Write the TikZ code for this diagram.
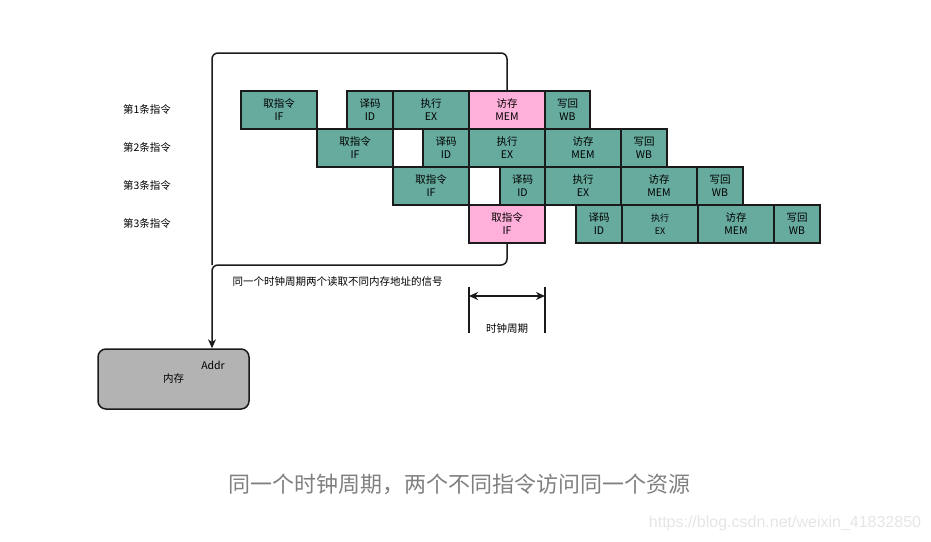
\documentclass[tikz,border=0pt]{standalone}
\usepackage{fontspec}
\setmainfont{Noto Sans CJK SC}
\newfontfamily\wmfont{Liberation Sans}
\usetikzlibrary{arrows.meta}
\definecolor{stagegreen}{HTML}{67AB9F}
\definecolor{stagepink}{HTML}{FFB0DA}
\definecolor{memgray}{HTML}{B3B3B3}
\definecolor{edgedark}{HTML}{1A1A1A}
\tikzset{
  stage/.style={draw=edgedark, line width=1.3pt, fill=stagegreen, minimum height=38,
    inner sep=0pt, align=center, font=\fontsize{10.5}{13}\selectfont},
  wide/.style={minimum width=76},
  narrow/.style={minimum width=46},
  clash/.style={fill=stagepink},
  rowlabel/.style={font=\fontsize{10.5}{12}\selectfont},
  wire/.style={draw=edgedark, line width=1.5pt},
}
\begin{document}
\begin{tikzpicture}[x=1pt, y=-1pt, >={Stealth[length=9pt, width=8pt]}]
    \useasboundingbox (0,0) rectangle (931,541);

    % --- row labels ---
    \node[rowlabel] (lab1) at (147,110) {第1条指令};
    \node[rowlabel] (lab2) at (147,148) {第2条指令};
    \node[rowlabel] (lab3) at (147,186) {第3条指令};
    \node[rowlabel] (lab4) at (147,224) {第3条指令};

    % --- instruction 1 ---
    \node[stage, wide] (r1if) at (279,110) {取指令\\IF};
    \node[stage, narrow] (r1id) at (370,110) {译码\\ID};
    \node[stage, wide] (r1ex) at (431,110) {执行\\EX};
    \node[stage, wide, clash] (r1mem) at (507,110) {访存\\MEM};
    \node[stage, minimum width=45] (r1wb) at (567.5,110) {写回\\WB};

    % --- instruction 2 ---
    \node[stage, wide] (r2if) at (355,148) {取指令\\IF};
    \node[stage, narrow] (r2id) at (446,148) {译码\\ID};
    \node[stage, wide] (r2ex) at (507,148) {执行\\EX};
    \node[stage, wide] (r2mem) at (583,148) {访存\\MEM};
    \node[stage, narrow] (r2wb) at (644,148) {写回\\WB};

    % --- instruction 3 ---
    \node[stage, wide] (r3if) at (431,186) {取指令\\IF};
    \node[stage, minimum width=45] (r3id) at (522.5,186) {译码\\ID};
    \node[stage, wide] (r3ex) at (583,186) {执行\\EX};
    \node[stage, wide] (r3mem) at (659,186) {访存\\MEM};
    \node[stage, narrow] (r3wb) at (720,186) {写回\\WB};

    % --- instruction 4 ---
    \node[stage, wide, clash] (r4if) at (507,224) {取指令\\IF};
    \node[stage, narrow] (r4id) at (599,224) {译码\\ID};
    \node[stage, wide, font=\fontsize{9}{13}\selectfont] (r4ex) at (660,224) {执行\\EX};
    \node[stage, wide] (r4mem) at (736,224) {访存\\MEM};
    \node[stage, narrow] (r4wb) at (797,224) {写回\\WB};

    % --- memory ---
    \node[draw=edgedark, line width=1.5pt, fill=memgray, rounded corners=8pt,
          minimum width=151, minimum height=60, font=\fontsize{10.5}{12}\selectfont]
          (mem) at (173.5,379) {内存};
    \node[font=\fontsize{10.5}{12}\selectfont] (addr) at (213,365) {Addr};

    % --- address bus ---
    \coordinate (bustop) at (212,53);
    \coordinate (busbot) at (212,265);
    \draw[wire, rounded corners=6pt] (r1mem.north) |- (bustop) -- (busbot);
    \draw[wire, ->, rounded corners=6pt] (r4if.south) |- (busbot) -- (bustop |- mem.north);
    \node[anchor=west, font=\fontsize{10.5}{12}\selectfont] (signal) at (229,282)
          {同一个时钟周期两个读取不同内存地址的信号};

    % --- clock period ---
    \coordinate (clkla) at (469,287);
    \coordinate (clklb) at (469,333);
    \coordinate (clkra) at (545,287);
    \coordinate (clkrb) at (545,333);
    \draw[wire] (clkla) -- (clklb);
    \draw[wire] (clkra) -- (clkrb);
    \draw[wire, <->] ([yshift=-9]clkla) -- ([yshift=-9]clkra);
    \node[font=\fontsize{10.5}{12}\selectfont] (clk) at (507,329) {时钟周期};

    % --- caption ---
    \node[text=black!50, font=\fontsize{22}{26}\selectfont] (caption) at (459,484)
          {同一个时钟周期，两个不同指令访问同一个资源};
    \node[text=black!10, font=\wmfont\fontsize{16}{18}\selectfont] (mark) at (785,523)
          {https://blog.csdn.net/weixin\_41832850};
\end{tikzpicture}
\end{document}
